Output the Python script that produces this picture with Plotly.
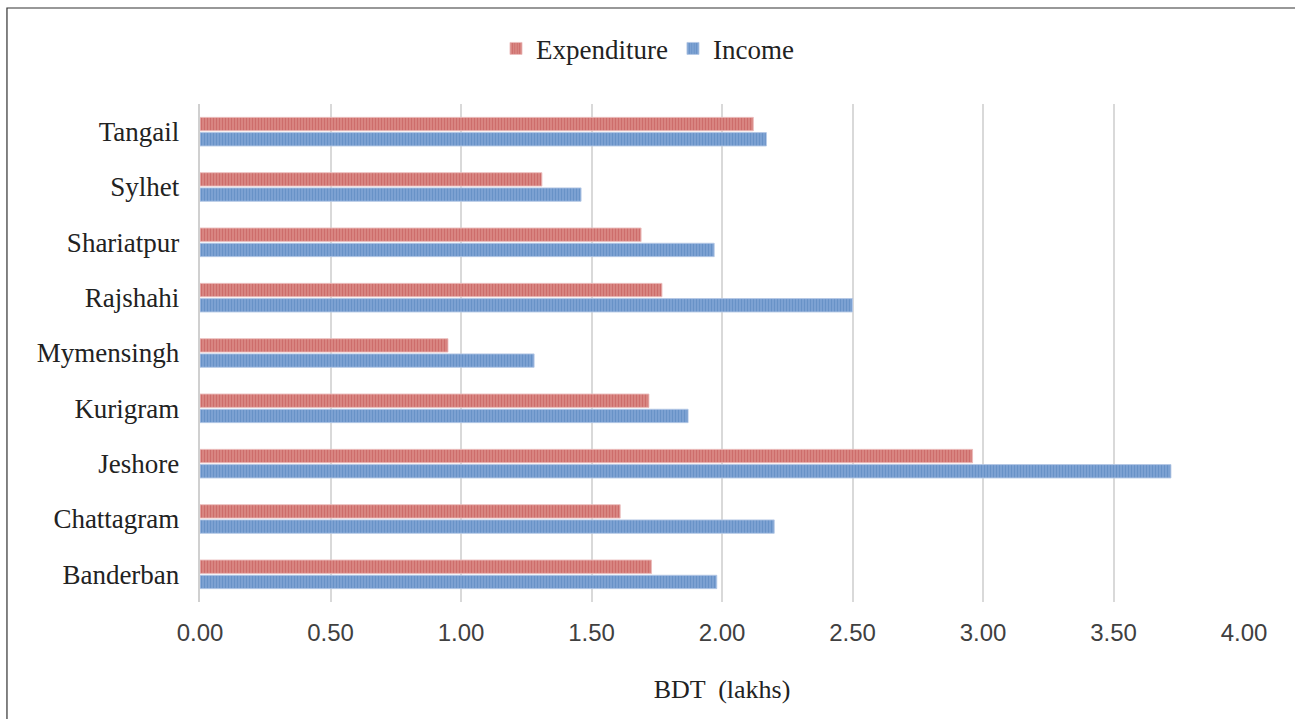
import plotly.graph_objects as go

districts = ["Banderban", "Chattagram", "Jeshore", "Kurigram", "Mymensingh",
             "Rajshahi", "Shariatpur", "Sylhet", "Tangail"]
expenditure = [1.73, 1.61, 2.96, 1.72, 0.95, 1.77, 1.69, 1.31, 2.12]
income = [1.98, 2.20, 3.72, 1.87, 1.28, 2.50, 1.97, 1.46, 2.17]
x_ticks = [0, 0.5, 1.0, 1.5, 2.0, 2.5, 3.0, 3.5, 4.0]

serif = "Liberation Serif, Times New Roman, serif"
sans = "Liberation Sans, Arial, sans-serif"

fig = go.Figure()

# Income drawn first so it sits below Expenditure within each group
fig.add_trace(go.Bar(
    y=districts, x=income, orientation="h", name="Income",
    legendrank=2,
    marker=dict(
        color="#4F81BD",
        line=dict(color="rgba(180,200,230,0.9)", width=1),
        pattern=dict(shape="|", size=3, solidity=0.55,
                     fgcolor="#4A7BB8", bgcolor="#86A8D6", fillmode="overlay"),
    ),
))
fig.add_trace(go.Bar(
    y=districts, x=expenditure, orientation="h", name="Expenditure",
    legendrank=1,
    marker=dict(
        color="#C0504D",
        line=dict(color="rgba(235,190,190,0.9)", width=1),
        pattern=dict(shape="|", size=3, solidity=0.55,
                     fgcolor="#BE4C49", bgcolor="#DC8F8C", fillmode="overlay"),
    ),
))

fig.update_layout(
    width=1295, height=719,
    margin=dict(l=200, r=51, t=104, b=117),
    paper_bgcolor="white", plot_bgcolor="white",
    barmode="group", bargap=0.45, bargroupgap=0.12,
    showlegend=True,
    legend=dict(
        orientation="h", xref="container", yref="container",
        x=0.5, xanchor="center", y=0.932, yanchor="middle",
        font=dict(family=serif, size=27, color="#222"),
        itemwidth=30, tracegroupgap=0,
    ),
    xaxis=dict(
        range=[0, 4.0], tickvals=x_ticks, tickformat=".2f",
        showgrid=True, gridcolor="#D9D9D9", gridwidth=1.5,
        zeroline=False, showline=False, ticks="",
        ticklabelstandoff=14,
        tickfont=dict(family=sans, size=24, color="#404040"),
        title=dict(text="BDT  (lakhs)", font=dict(family=serif, size=26, color="#222"),
                   standoff=34),
    ),
    yaxis=dict(
        showgrid=False, zeroline=False,
        showline=True, linecolor="#D0D0D0", linewidth=1.5,
        ticks="", ticksuffix="  ",
        tickfont=dict(family=serif, size=27, color="#222"),
    ),
    shapes=[dict(
        type="rect", xref="paper", yref="paper",
        x0=-0.1849, x1=1.08, y0=-0.26, y1=1.1928,
        line=dict(color="#333", width=1.2), fillcolor="rgba(0,0,0,0)",
        layer="above",
    )],
)

fig.write_html("out.html")
